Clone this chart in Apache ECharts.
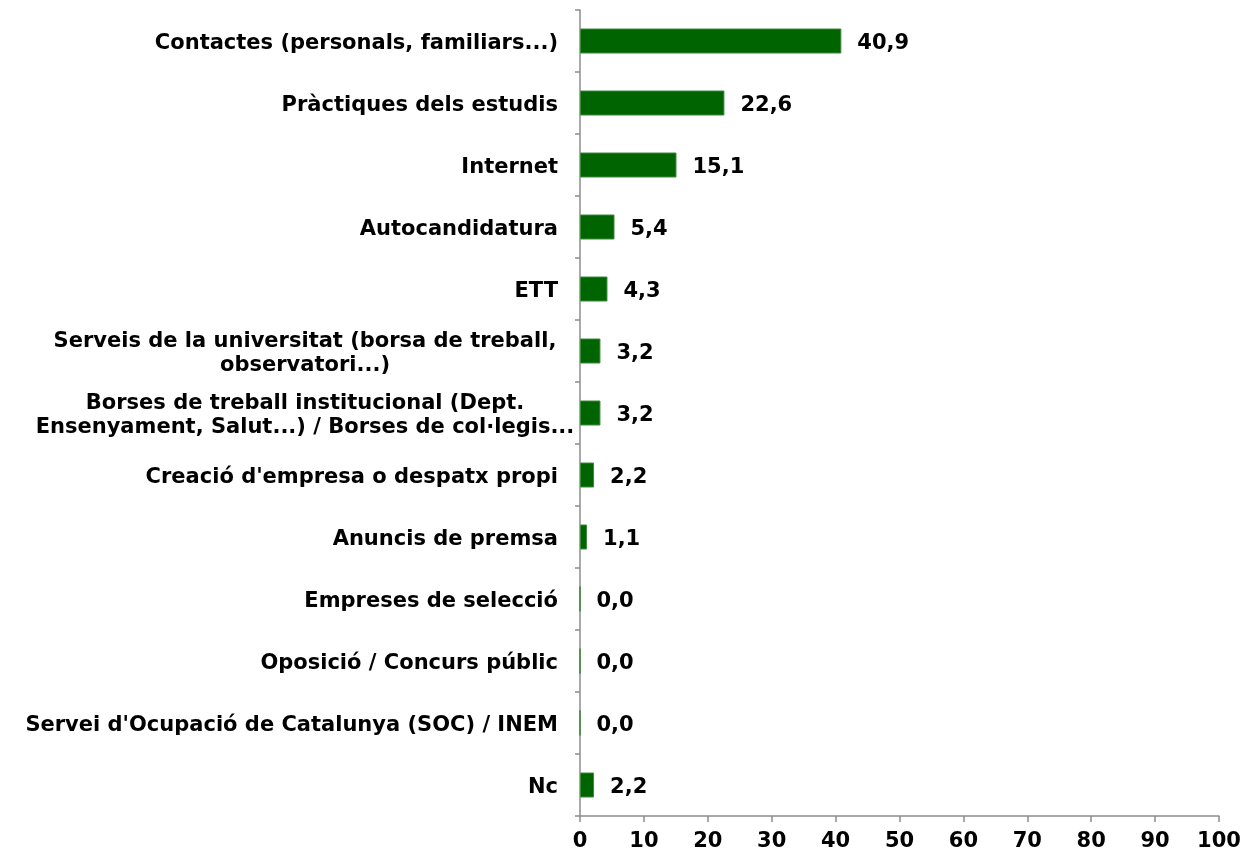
<!DOCTYPE html>
<html>
<head>
<meta charset="utf-8">
<script src="https://cdn.jsdelivr.net/npm/echarts@6/dist/echarts.min.js"></script>
<style>
  html, body { margin: 0; padding: 0; background: #fff; }
  #chart { width: 1245px; height: 855px; }
</style>
</head>
<body>
<div id="chart"></div>
<script>
// categories, top to bottom as in the picture
const categories = [
  "Contactes (personals, familiars...)",
  "Pràctiques dels estudis",
  "Internet",
  "Autocandidatura",
  "ETT",
  "Serveis de la universitat (borsa de treball,\nobservatori...)",
  "Borses de treball institucional (Dept.\nEnsenyament, Salut...) / Borses de col·legis...",
  "Creació d'empresa o despatx propi",
  "Anuncis de premsa",
  "Empreses de selecció",
  "Oposició / Concurs públic",
  "Servei d'Ocupació de Catalunya (SOC) / INEM",
  "Nc"
];
const values = [40.9, 22.6, 15.1, 5.4, 4.3, 3.2, 3.2, 2.2, 1.1, 0.0, 0.0, 0.0, 2.2];
const xTicks = [0, 10, 20, 30, 40, 50, 60, 70, 80, 90, 100];

const font = "DejaVu Sans";
const myChart = echarts.init(document.getElementById("chart"));

const option = {
  animation: false,
  grid: { left: 580, right: 26, top: 10, bottom: 39 },
  xAxis: {
    type: "value",
    min: xTicks[0],
    max: xTicks[xTicks.length - 1],
    interval: 10,
    splitLine: { show: false },
    axisLine: { show: true, lineStyle: { color: "#8c8c8c", width: 1.5 } },
    axisTick: { show: true, length: 6, lineStyle: { color: "#8c8c8c", width: 1.5 } },
    axisLabel: { color: "#000", fontFamily: font, fontWeight: "bold", fontSize: 21, margin: 15 }
  },
  yAxis: {
    type: "category",
    inverse: true,
    data: categories,
    axisLine: { show: true, lineStyle: { color: "#8c8c8c", width: 1.5 } },
    axisTick: { show: true, length: 5, lineStyle: { color: "#8c8c8c", width: 1.5 } },
    axisLabel: {
      color: "#000",
      fontFamily: font,
      fontWeight: "bold",
      fontSize: 21,
      margin: 22,
      lineHeight: 24,
      padding: [5, 0, 0, 0],
      formatter: (value) => {
        // multi-line labels are centred inside their box
        if (value.indexOf("\n") >= 0) {
          return value.split("\n").map((l) => "{c|" + l + "}").join("\n");
        }
        return value;
      },
      rich: {
        c: {
          width: 506,
          align: "center",
          fontFamily: font,
          fontWeight: "bold",
          fontSize: 21,
          lineHeight: 24,
          color: "#000"
        }
      }
    }
  },
  series: [
    {
      type: "bar",
      data: values,
      barWidth: 25,
      itemStyle: { color: "#006400", borderColor: "#3d8a3d", borderWidth: 1 },
      label: {
        show: true,
        position: "right",
        distance: 16,
        offset: [0, 3],
        color: "#000",
        fontFamily: font,
        fontWeight: "bold",
        fontSize: 21,
        formatter: (p) => p.value.toFixed(1).replace(".", ",")
      }
    }
  ]
};
myChart.setOption(option);
</script>
</body>
</html>
